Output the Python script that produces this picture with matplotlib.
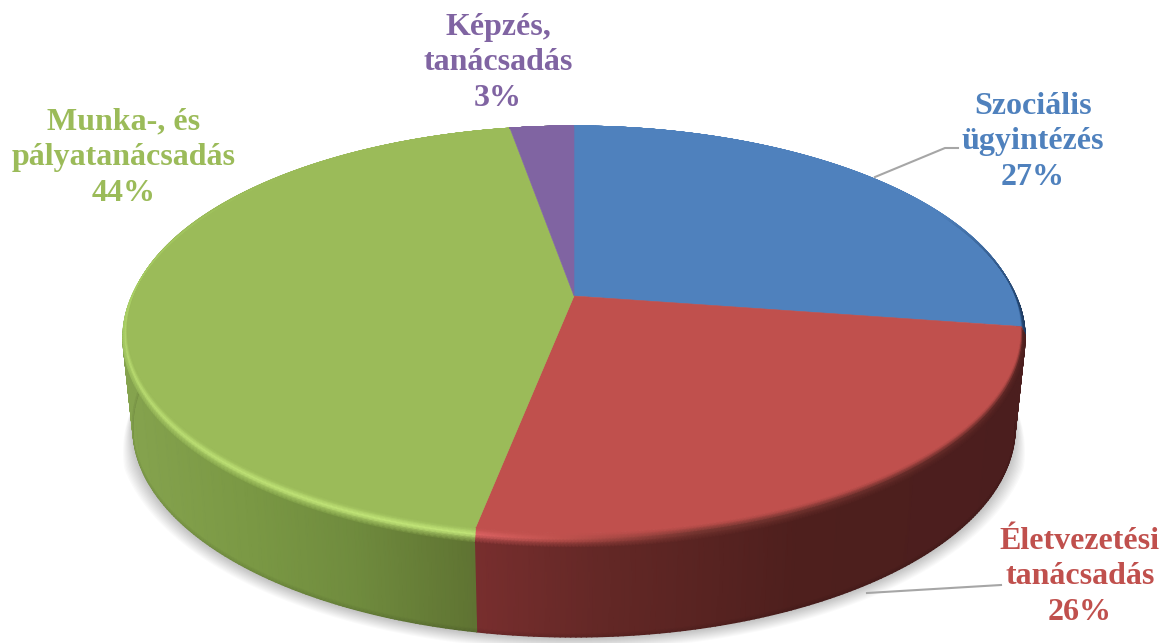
import numpy as np
import matplotlib
matplotlib.use("Agg")
import matplotlib.pyplot as plt
from matplotlib.patches import Polygon

labels = ["Szociális\nügyintézés\n27%", "Életvezetési\ntanácsadás\n26%",
          "Munka-, és\npályatanácsadás\n44%", "Képzés,\ntanácsadás\n3%"]
values = [27.4, 25.6, 44.3, 2.7]
colors = ["#4F81BD", "#C0504D", "#9BBB59", "#8064A2"]
label_pos = [(1033, 142), (1080, 577), (124, 158), (498, 63)]

# picture geometry, in pixels
cx, cy = 574, 296
rx, ry = 441, 198
k = 0.165
depth = 90

plt.rcParams["font.family"] = ["Liberation Serif", "DejaVu Serif"]
fig = plt.figure(figsize=(11.68, 6.43), dpi=100)
ax = fig.add_axes([0, 0, 1, 1])
ax.set_xlim(0, 1168)
ax.set_ylim(643, 0)
ax.axis("off")


def flat(theta):
    t = np.radians(theta)
    u, v = np.sin(t), np.cos(t)
    w = 1 + k * v
    return cx + rx * u / w, cy - ry * v / w


def outer(theta):
    # lower edge of the bevel
    x, y = flat(theta)
    f = (1 - np.cos(np.radians(theta))) / 2
    return cx + (x - cx) * 1.009, y + 14 * f


def bottom(theta):
    x, y = outer(theta)
    return cx + (x - cx) * 0.978, y + depth


def rgb(*c):
    return np.array(c) / 255.0


def hexrgb(c):
    return np.array(matplotlib.colors.to_rgb(c))


# start/end of each slice, clockwise from the top
edges = np.concatenate([[0], np.cumsum(values)]) * 3.6

# soft shadow under the pie, thin where it meets the sides
th = np.linspace(60, 300, 300)
bx, by = bottom(th)
my = cy + 120
taper = np.clip((by - 395) / 70, 0, 1)
for g in np.linspace(1, 16, 12):
    sx = cx + (bx - cx) * (1 + taper * g / 450)
    sy = my + (by - my) * (1 + taper * g / 300) + taper
    ax.add_patch(Polygon(np.column_stack([sx, sy]), closed=True, fc="black", ec="none",
                         alpha=0.018, zorder=1))

# side wall colours by x position
green_x = [124, 250, 350, 476]
green_side = np.array([rgb(133, 163, 78), rgb(122, 152, 68), rgb(112, 140, 62), rgb(95, 115, 50)])
red_x = [476, 600, 800, 1024]
red_side = np.array([rgb(120, 46, 46), rgb(100, 40, 38), rgb(78, 31, 29), rgb(75, 30, 30)])
rows = np.array([0, 0.96, 1.0])
row_dark = np.array([1, 1, 0.88])


def side(th0, th1, xs, cols):
    th = np.linspace(th0, th1, 160)
    tx, ty = outer(th)
    lx, ly = bottom(th)
    X = np.outer(1 - rows, tx) + np.outer(rows, lx)
    Y = np.outer(1 - rows, ty) + np.outer(rows, ly)
    base = np.column_stack([np.interp(tx, xs, cols[:, i]) for i in range(3)])
    C = np.stack([base * d for d in row_dark])
    ax.pcolormesh(X, Y, C, shading="gouraud", zorder=2)


side(90, edges[1], [0, 1168], np.array([rgb(35, 60, 95), rgb(35, 60, 95)]))
side(edges[1], edges[2], red_x, red_side)
side(edges[2], 271, green_x, green_side)

# flat top faces
for i in range(len(values)):
    th = np.linspace(edges[i], edges[i + 1], 200)
    x, y = flat(th)
    pts = np.column_stack([np.r_[cx, x], np.r_[cy, y]])
    ax.add_patch(Polygon(pts, closed=True, fc=colors[i], ec=colors[i], lw=0.4, zorder=3))


# bevel between top face and side wall
def bevel(th0, th1, high, edge, base):
    th = np.linspace(th0, th1, 240)
    fx, fy = flat(th)
    ox, oy = outer(th)
    s = np.array([0, 0.2, 0.45, 0.7, 1.0])
    X = np.outer(1 - s, fx) + np.outer(s, ox)
    Y = np.outer(1 - s, fy) + np.outer(s, oy)
    h = high(th)[:, None]
    e = edge(th)
    C = np.zeros((len(s), len(th), 3))
    C[0] = base
    C[1] = base * 0.65 + (base * (1 - h) + h * e[0]) * 0.35
    C[2] = base * (1 - h) + h * e[0]
    C[3] = (base * (1 - h) + h * e[0]) * 0.55 + e[1] * 0.45
    C[4] = e[1]
    ax.pcolormesh(X, Y, C, shading="gouraud", zorder=4)


def green_edge(th):
    top = np.ones((len(th), 1)) * rgb(196, 232, 122)
    low = np.column_stack([np.interp(outer(th)[0], green_x, green_side[:, i]) for i in range(3)]) * 1.05
    fade = np.interp(th, [245, 268], [1, 0])[:, None]
    back = np.interp(th, [268, 320], [1, 0])[:, None]
    rim = rgb(168, 208, 100) * back + hexrgb(colors[2]) * (1 - back)
    return top, low * fade + rim * (1 - fade)


def red_edge(th):
    x = outer(th)[0]
    top = np.column_stack([np.interp(x, [476, 560, 700, 1024], [c0, c1, c2, c3])
                           for c0, c1, c2, c3 in zip(rgb(222, 100, 100), rgb(192, 82, 78), rgb(120, 55, 50), rgb(95, 40, 38))])
    low = np.column_stack([np.interp(x, red_x, red_side[:, i]) for i in range(3)])
    return top, low


def blue_edge(th):
    top = np.ones((len(th), 1)) * rgb(45, 85, 135)
    low = np.ones((len(th), 1)) * rgb(30, 58, 95)
    fade = np.interp(th, [62, 92], [0, 1])[:, None]
    base = hexrgb(colors[0])
    return top * fade + base * (1 - fade), low * fade + base * (1 - fade)


bevel(edges[0], edges[1], lambda t: np.ones_like(t), blue_edge, hexrgb(colors[0]))
bevel(edges[1], edges[2], lambda t: np.ones_like(t), red_edge, hexrgb(colors[1]))
bevel(edges[2], edges[3], lambda t: np.interp(t, [200, 250, 300], [1, 0.75, 0]), green_edge, hexrgb(colors[2]))
bevel(edges[3], edges[4], lambda t: np.zeros_like(t),
      lambda t: (np.ones((len(t), 1)) * hexrgb(colors[3]), np.ones((len(t), 1)) * hexrgb(colors[3])),
      hexrgb(colors[3]))

# leader lines
ax.plot([875, 945, 958], [177, 148, 148], color="#A6A6A6", lw=1.5, zorder=5)
ax.plot([867, 1001], [593, 585], color="#A6A6A6", lw=1.5, zorder=5)

for lab, pos, col in zip(labels, label_pos, colors):
    ax.text(pos[0], pos[1], lab, color=col, fontsize=23, fontweight="bold", ha="center", va="center",
            linespacing=1.3, zorder=6)

fig.savefig("out.png", dpi=100)
